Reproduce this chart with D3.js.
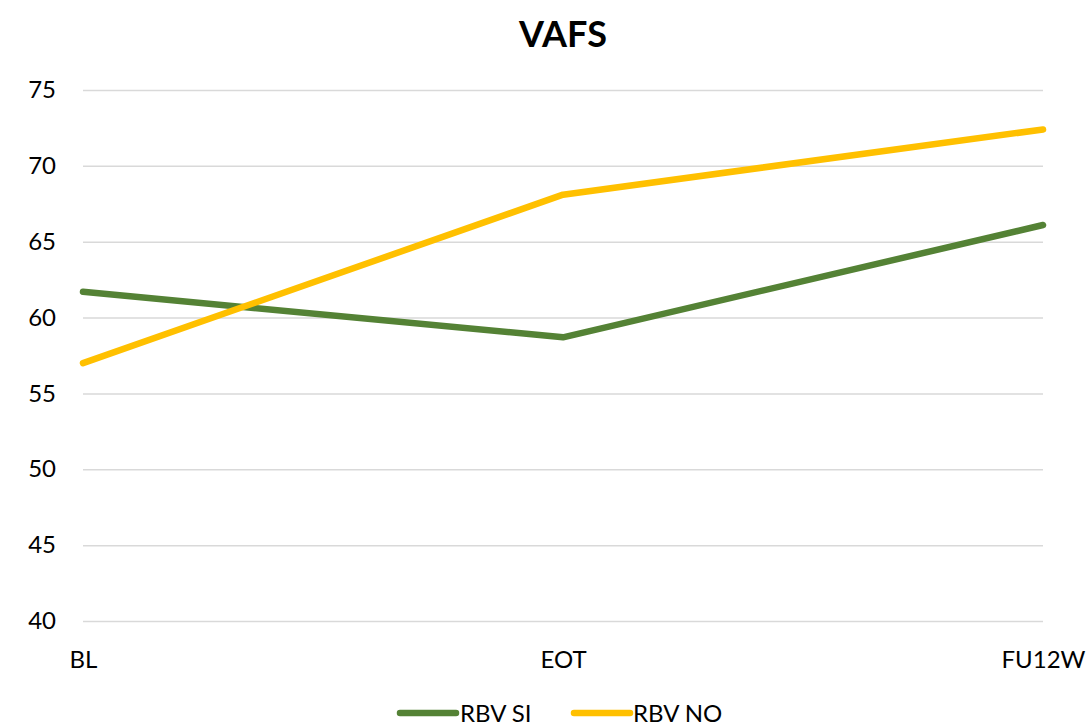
<!DOCTYPE html>
<html>
<head>
<meta charset="utf-8">
<script src="https://cdn.jsdelivr.net/npm/d3@7/dist/d3.min.js"></script>
<style>
  html, body { margin: 0; padding: 0; background: #fff; }
  svg { display: block; font-family: Lato, "Open Sans", sans-serif; }
</style>
</head>
<body>
<svg id="chart" width="1087" height="726"></svg>
<script>
// Time points on the x axis
const categories = ["BL", "EOT", "FU12W"];
// VAFS means per group
const rbvSi = [61.7, 58.7, 66.1];
const rbvNo = [57.0, 68.1, 72.4];
// Y axis ticks
const yTicks = [40, 45, 50, 55, 60, 65, 70, 75];

const series = [
  { name: "RBV SI", values: rbvSi, color: "#548235" },
  { name: "RBV NO", values: rbvNo, color: "#FFC000" }
];

const svg = d3.select("#chart");
const plot = { left: 83, right: 1043, top: 90, bottom: 621 };

const x = d3.scalePoint().domain(categories).range([plot.left, plot.right]);
const y = d3.scaleLinear().domain([40, 75]).range([plot.bottom, plot.top]);

// Title
svg.append("text")
  .attr("x", 563).attr("y", 47)
  .attr("text-anchor", "middle")
  .attr("font-size", 36).attr("font-weight", "bold")
  .attr("fill", "#000")
  .text("VAFS");

// Horizontal gridlines and y labels
const yAxis = d3.axisLeft(y).tickValues(yTicks).tickSize(-(plot.right - plot.left)).tickPadding(27);
const gy = svg.append("g").attr("transform", `translate(${plot.left},0)`).call(yAxis);
gy.select(".domain").remove();
gy.selectAll(".tick line").attr("stroke", "#d9d9d9").attr("stroke-width", 1.5);
gy.selectAll(".tick text").attr("font-size", 24).attr("fill", "#000").attr("font-family", "Lato, sans-serif");

// X labels
const xAxis = d3.axisBottom(x).tickSize(0).tickPadding(30);
const gx = svg.append("g").attr("transform", `translate(0,${plot.bottom})`).call(xAxis);
gx.select(".domain").remove();
gx.selectAll(".tick text").attr("font-size", 24).attr("fill", "#000").attr("font-family", "Lato, sans-serif");

// Lines
const line = d3.line()
  .x((d, i) => x(categories[i]))
  .y(d => y(d));

series.forEach(s => {
  svg.append("path")
    .datum(s.values)
    .attr("d", line)
    .attr("fill", "none")
    .attr("stroke", s.color)
    .attr("stroke-width", 6.5)
    .attr("stroke-linejoin", "round")
    .attr("stroke-linecap", "round");
});

// Legend
const legendItems = [
  { s: series[0], lx: 400, tx: 460 },
  { s: series[1], lx: 574, tx: 633 }
];
legendItems.forEach(it => {
  svg.append("line")
    .attr("x1", it.lx).attr("x2", it.lx + 56)
    .attr("y1", 713).attr("y2", 713)
    .attr("stroke", it.s.color).attr("stroke-width", 6.5)
    .attr("stroke-linecap", "round");
  svg.append("text")
    .attr("x", it.tx).attr("y", 722)
    .attr("font-size", 24).attr("fill", "#000")
    .text(it.s.name);
});
</script>
</body>
</html>
